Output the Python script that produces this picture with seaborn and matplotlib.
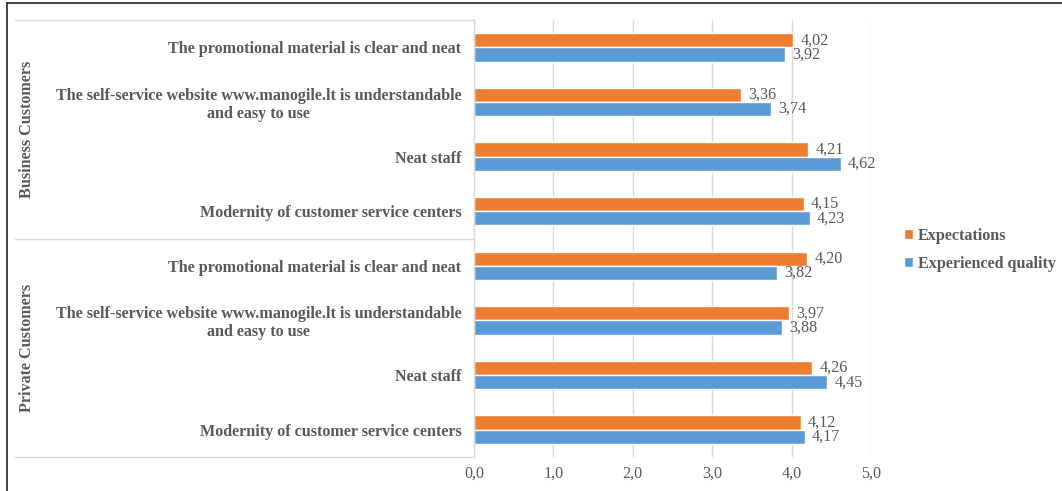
import matplotlib
matplotlib.use("Agg")
import matplotlib.pyplot as plt
from matplotlib.lines import Line2D
import pandas as pd
import seaborn as sns

GROUPS = ["Business Customers", "Private Customers"]
ITEMS = [
    "The promotional material is clear and neat",
    "The self-service website www.manogile.lt is understandable\nand easy to use",
    "Neat staff",
    "Modernity of customer service centers",
]
SERIES = ["Expectations", "Experienced quality"]
BUSINESS_EXPECTATIONS = [4.02, 3.36, 4.21, 4.15]
BUSINESS_EXPERIENCED = [3.92, 3.74, 4.62, 4.23]
PRIVATE_EXPECTATIONS = [4.20, 3.97, 4.26, 4.12]
PRIVATE_EXPERIENCED = [3.82, 3.88, 4.45, 4.17]
X_TICKS = [0, 1, 2, 3, 4, 5]

COLORS = {"Expectations": "#ED7D31", "Experienced quality": "#5B9BD5"}
TEXT = "#595959"
GRID = "#d9d9d9"
FS = 11.6

sns.set_theme(style="white")
plt.rcParams["font.family"] = ["Liberation Serif", "DejaVu Serif"]

rows = []
values = {
    GROUPS[0]: (BUSINESS_EXPECTATIONS, BUSINESS_EXPERIENCED),
    GROUPS[1]: (PRIVATE_EXPECTATIONS, PRIVATE_EXPERIENCED),
}
keys = []
for g, (exp, qual) in values.items():
    for i, item in enumerate(ITEMS):
        key = f"{g}|{i}"
        keys.append(key)
        rows.append({"key": key, "series": SERIES[0], "value": exp[i]})
        rows.append({"key": key, "series": SERIES[1], "value": qual[i]})
df = pd.DataFrame(rows)

fig = plt.figure(figsize=(10.62, 4.91), dpi=100)
ax = fig.add_axes([474 / 1062, 1 - 457 / 491, 397 / 1062, 437 / 491])

sns.barplot(
    data=df, y="key", x="value", hue="series", order=keys,
    hue_order=SERIES, palette=COLORS, orient="h", width=0.52,
    saturation=1, ax=ax, legend=True,
)

for container in ax.containers:
    ax.bar_label(
        container, fmt=lambda v: f"{v:.2f}".replace(".", ","),
        padding=5, fontsize=FS, color=TEXT,
    )

ax.set_xlim(0, 5)
ax.set_ylim(len(keys) - 0.5, -0.5)
ax.set_xticks(X_TICKS)
ax.set_xticklabels([f"{t:.1f}".replace(".", ",") for t in X_TICKS],
                   fontsize=FS, color=TEXT)
ax.set_yticks(range(len(keys)))
ax.set_yticklabels(ITEMS * 2, fontsize=FS, fontweight="bold", color=TEXT,
                   multialignment="center", linespacing=1.15)
ax.tick_params(axis="y", length=0, pad=9)
ax.tick_params(axis="x", length=0, pad=6)
ax.set_xlabel("")
ax.set_ylabel("")
ax.xaxis.grid(True, color=GRID, linewidth=1)
ax.set_axisbelow(True)
for side in ["top", "right", "bottom"]:
    ax.spines[side].set_visible(False)
ax.spines["left"].set_color(GRID)
ax.spines["left"].set_linewidth(1)

# group separators and group names
for y in [0, 0.5, 1]:
    ax.plot([(15 - 474) / 397, 0], [y, y], transform=ax.transAxes,
            color=GRID, linewidth=1, clip_on=False)
for g, yc in zip(GROUPS, [0.75, 0.25]):
    ax.text((27 - 474) / 397, yc, g, transform=ax.transAxes, rotation=90,
            ha="center", va="center", fontsize=FS, fontweight="bold",
            color=TEXT)

handles, labels = ax.get_legend_handles_labels()
ax.legend(handles, labels, loc="center left", frameon=False,
          bbox_to_anchor=(904 / 1062, 1 - 250 / 491),
          bbox_transform=fig.transFigure, borderaxespad=0, borderpad=0,
          prop={"weight": "bold", "size": FS}, labelcolor=TEXT,
          handlelength=0.55, handleheight=0.55, handletextpad=0.3,
          labelspacing=0.75)

# outer frame of the original figure
fig.add_artist(Line2D([7 / 1062, 7 / 1062], [0, 1 - 3 / 491],
                      color="#222222", linewidth=1.2))
fig.add_artist(Line2D([7 / 1062, 1], [1 - 3 / 491, 1 - 3 / 491],
                      color="#222222", linewidth=1.2))

fig.savefig("out.png", dpi=100)
